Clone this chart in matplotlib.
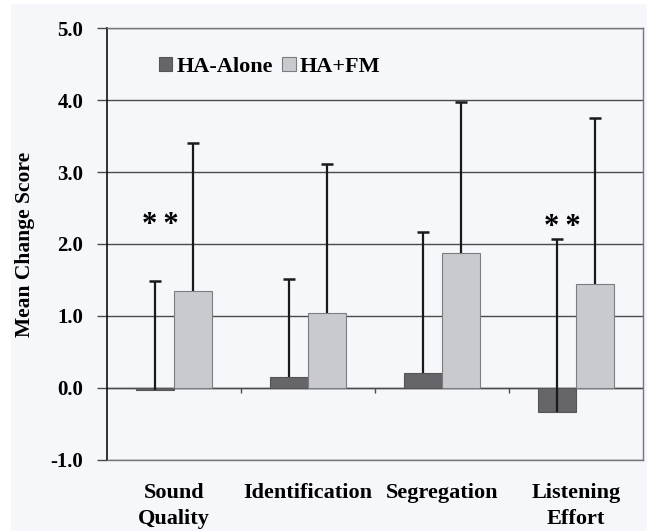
import numpy as np
import matplotlib.pyplot as plt
from matplotlib.patches import Patch, Rectangle
from matplotlib.transforms import offset_copy

# Data
categories = ['Sound\nQuality', 'Identification', 'Segregation', 'Listening\nEffort']
ha_alone = [-0.03, 0.15, 0.21, -0.33]
ha_fm = [1.34, 1.04, 1.87, 1.45]
ha_alone_sd = [1.52, 1.36, 1.96, 2.40]
ha_fm_sd = [2.06, 2.07, 2.11, 2.30]
stars = ['*\u2009*', '', '', '*\u2009*']
star_y = [2.33, 0, 0, 2.31]
series_names = ['HA-Alone', 'HA+FM']

plt.rcParams['font.family'] = ['Liberation Serif', 'DejaVu Serif']
plt.rcParams['font.weight'] = 'bold'

bg = '#f5f7fb'
dark = '#65656a'
light = '#c9cacf'

fig = plt.figure(figsize=(6.52, 5.31), dpi=100, facecolor='white')
# light panel behind the chart (thin white strip on left/top/right)
fig.patches.append(Rectangle((11 / 652, 0), 636 / 652, 527 / 531, transform=fig.transFigure,
                             facecolor=bg, edgecolor='none', zorder=-5))
ax = fig.add_axes([0.164, 0.134, 0.822, 0.813], facecolor=bg)

x = np.arange(len(categories))
w = 0.285

ax.bar(x - w / 2, ha_alone, w, color=dark, edgecolor='#555555', linewidth=0.8, zorder=3)
ax.bar(x + w / 2, ha_fm, w, color=light, edgecolor='#7d7d80', linewidth=0.8, zorder=3)

# One-sided (upper) error bars: stem from bar end up, cap only at top
for xs, vals, sds in [(x - w / 2, ha_alone, ha_alone_sd), (x + w / 2, ha_fm, ha_fm_sd)]:
    tops = np.array(vals) + np.array(sds)
    ax.vlines(xs, vals, tops, color='#1a1a1a', linewidth=1.6, zorder=4)
    ax.plot(xs, tops, linestyle='none', marker='_', markersize=9, markeredgewidth=1.8,
            color='#1a1a1a', zorder=4)

# asterisks sit high in their glyph box, so nudge them down a little
star_tr = offset_copy(ax.transData, fig=fig, y=-4, units='points')
for i, s in enumerate(stars):
    if s:
        ax.text(x[i] - w / 2 + 0.04, star_y[i], s, ha='center', va='center', fontsize=22,
                fontweight='bold', zorder=5, transform=star_tr)

ax.set_xlim(-0.5, len(categories) - 0.5)
ax.set_ylim(-1.0, 5.0)
ax.set_yticks(np.arange(-1, 5.1, 1.0))
ax.set_yticklabels([f'{v:.1f}' for v in np.arange(-1, 5.1, 1.0)], fontsize=15, fontweight='bold')
ax.yaxis.grid(True, color='#4a4a4a', linewidth=1.0, zorder=1)
ax.tick_params(axis='y', length=7, width=1.0, color='#4a4a4a', pad=10)

# zero axis line with category boundary ticks
ax.axhline(0, color='#4a4a4a', linewidth=1.0, zorder=2)
bounds = np.arange(1, len(categories)) - 0.5
ax.vlines(bounds, -0.07, 0, color='#4a4a4a', linewidth=1.0, zorder=2)

ax.set_xticks(x)
ax.set_xticklabels(categories, fontsize=16, fontweight='bold', linespacing=1.35)
ax.tick_params(axis='x', length=0, pad=17)

for side in ['top', 'right', 'bottom']:
    ax.spines[side].set_color('#777777')
    ax.spines[side].set_linewidth(1.0)
ax.spines['left'].set_color('#111111')
ax.spines['left'].set_linewidth(1.2)

ax.set_ylabel('Mean Change Score', fontsize=15.5, fontweight='bold')
ax.yaxis.set_label_coords(-0.134, 0.5)

handles = [Patch(facecolor=dark, edgecolor='#555555', linewidth=0.8),
           Patch(facecolor=light, edgecolor='#7d7d80', linewidth=0.8)]
leg = ax.legend(handles, series_names, loc='upper left', bbox_to_anchor=(0.06, 0.98), ncol=2,
                frameon=False, handlelength=0.6, handleheight=0.6,
                handletextpad=0.2, columnspacing=0.4, prop={'weight': 'bold', 'size': 16})

fig.savefig('out.png', dpi=100, facecolor='white')
